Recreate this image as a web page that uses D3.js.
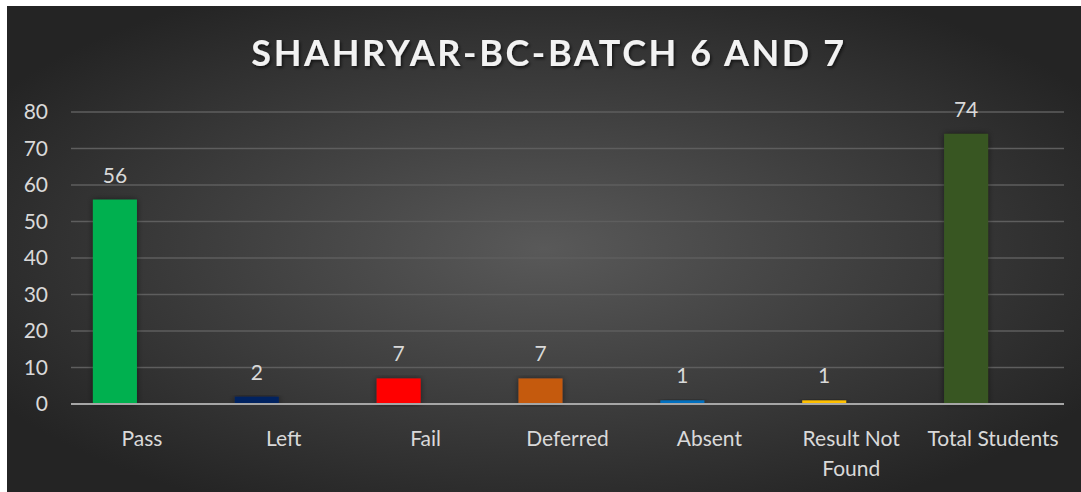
<!DOCTYPE html>
<html>
<head>
<meta charset="utf-8">
<script src="https://cdn.jsdelivr.net/npm/d3@7"></script>
<style>
  body { margin: 0; background: #fff; }
  svg { display: block; font-family: Lato, "Open Sans", sans-serif; }
</style>
</head>
<body>
<div id="chart"></div>
<script>
const categories = ["Pass", "Left", "Fail", "Deferred", "Absent", "Result Not Found", "Total Students"];
const values = [56, 2, 7, 7, 1, 1, 74];
const colors = ["#00B050", "#002060", "#FF0000", "#C55A11", "#0070C0", "#FFC000", "#375623"];
const yTicks = [0, 10, 20, 30, 40, 50, 60, 70, 80];
const title = "SHAHRYAR-BC-BATCH 6 AND 7";

const W = 1081, H = 492;
const margin = {top: 112, right: 17, bottom: 88, left: 71};
const width = W - margin.left - margin.right,
      height = H - margin.top - margin.bottom;

const svg = d3.select("#chart").append("svg")
  .attr("width", W)
  .attr("height", H);

const defs = svg.append("defs");
const grad = defs.append("radialGradient")
  .attr("id", "bg")
  .attr("cx", "50%").attr("cy", "50%").attr("r", "60%");
grad.append("stop").attr("offset", "0%").attr("stop-color", "#595959");
grad.append("stop").attr("offset", "100%").attr("stop-color", "#242424");

const shadow = defs.append("filter").attr("id", "shadow")
  .attr("x", "-20%").attr("y", "-20%").attr("width", "140%").attr("height", "140%");
shadow.append("feDropShadow")
  .attr("dx", 1.5).attr("dy", 2).attr("stdDeviation", 1.5)
  .attr("flood-color", "#000").attr("flood-opacity", 0.6);

const barShadow = defs.append("filter").attr("id", "barShadow")
  .attr("x", "-30%").attr("y", "-10%").attr("width", "160%").attr("height", "120%");
barShadow.append("feDropShadow")
  .attr("dx", 0).attr("dy", 0).attr("stdDeviation", 3)
  .attr("flood-color", "#000").attr("flood-opacity", 0.5);

svg.append("rect")
  .attr("x", 7).attr("y", 6)
  .attr("width", W - 7).attr("height", H - 6)
  .attr("fill", "url(#bg)");

svg.append("text")
  .attr("x", 549)
  .attr("y", 66)
  .attr("text-anchor", "middle")
  .attr("fill", "#f2f2f2")
  .attr("font-size", 36)
  .attr("font-weight", "bold")
  .attr("letter-spacing", 2.6)
  .attr("filter", "url(#shadow)")
  .text(title);

const g = svg.append("g")
  .attr("transform", "translate(" + margin.left + "," + margin.top + ")");

const x = d3.scaleBand()
  .domain(categories)
  .range([0, width]);

const y = d3.scaleLinear()
  .domain([0, 80])
  .range([height, 0]);

const yAxis = d3.axisLeft(y).tickValues(yTicks).tickSize(0).tickPadding(23);
const gY = g.append("g").call(yAxis);
gY.select(".domain").remove();
gY.selectAll("text")
  .attr("fill", "#d9d9d9")
  .attr("font-size", 21)
  .attr("font-family", "Lato, sans-serif");

g.append("g")
  .selectAll("line")
  .data(yTicks.filter(d => d > 0))
  .join("line")
    .attr("x1", 0).attr("x2", width)
    .attr("y1", d => y(d)).attr("y2", d => y(d))
    .attr("stroke", "#5e5e5e")
    .attr("stroke-width", 1.5);

// bars sit left of category centre (empty second series in the original)
const barW = 44;
const barOffset = -27;
const bx = d => x(d) + x.bandwidth() / 2 + barOffset;

g.append("g")
  .selectAll("rect")
  .data(categories)
  .join("rect")
    .attr("x", d => bx(d) - barW / 2)
    .attr("y", (d, i) => y(values[i]))
    .attr("width", barW)
    .attr("height", (d, i) => height - y(values[i]))
    .attr("fill", (d, i) => colors[i])
    .attr("filter", "url(#barShadow)");

g.append("line")
  .attr("x1", 0).attr("x2", width)
  .attr("y1", height).attr("y2", height)
  .attr("stroke", "#a6a6a6")
  .attr("stroke-width", 2);

g.append("g")
  .selectAll("text")
  .data(categories)
  .join("text")
    .attr("x", d => bx(d))
    .attr("y", (d, i) => y(values[i]) - 17)
    .attr("text-anchor", "middle")
    .attr("fill", "#d9d9d9")
    .attr("font-size", 21)
    .text((d, i) => values[i]);

const xLabels = {"Result Not Found": ["Result Not", "Found"]};
g.append("g")
  .selectAll("text")
  .data(categories)
  .join("text")
    .attr("x", d => x(d) + x.bandwidth() / 2)
    .attr("y", height + 42)
    .attr("text-anchor", "middle")
    .attr("fill", "#d9d9d9")
    .attr("font-size", 21)
    .each(function(d) {
      const lines = xLabels[d] || [d];
      d3.select(this).selectAll("tspan")
        .data(lines)
        .join("tspan")
          .attr("x", x(d) + x.bandwidth() / 2)
          .attr("dy", (l, i) => i ? 30 : 0)
          .text(l => l);
    });
</script>
</body>
</html>
